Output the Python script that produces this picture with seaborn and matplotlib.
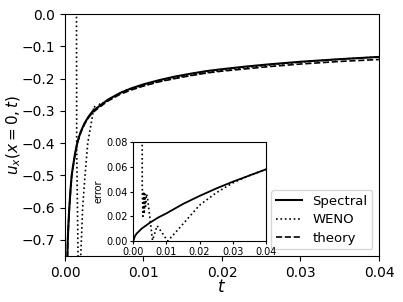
import numpy as np
import pandas as pd
import matplotlib
matplotlib.use("Agg")
import matplotlib.pyplot as plt
import seaborn as sns

# ---- main panel data ----
t_spec = [0.00028, 0.00035, 0.00045, 0.00055, 0.0007, 0.00085, 0.001, 0.0013, 0.0016,
          0.002, 0.0025, 0.003, 0.0035, 0.0045, 0.0055, 0.007, 0.0085, 0.01, 0.012,
          0.014, 0.016, 0.018, 0.02, 0.023, 0.026, 0.03, 0.035, 0.04]
u_spec = [-0.78, -0.70, -0.645, -0.60, -0.545, -0.50, -0.475, -0.43, -0.395,
          -0.365, -0.338, -0.318, -0.302, -0.283, -0.265, -0.245, -0.230, -0.218, -0.205,
          -0.194, -0.185, -0.177, -0.171, -0.163, -0.156, -0.148, -0.140, -0.133]
u_theory = [-0.782, -0.703, -0.648, -0.603, -0.549, -0.503, -0.478, -0.433, -0.398,
            -0.368, -0.341, -0.321, -0.306, -0.287, -0.269, -0.249, -0.235, -0.223, -0.210,
            -0.200, -0.191, -0.183, -0.177, -0.170, -0.163, -0.155, -0.147, -0.141]

t_weno = [0.00145, 0.00149, 0.00166, 0.0018, 0.00204, 0.00225, 0.00255, 0.0029, 0.0034,
          0.0037, 0.004, 0.0045, 0.005, 0.006, 0.0075, 0.01, 0.012, 0.015, 0.02,
          0.025, 0.03, 0.035, 0.04]
u_weno = [0.2, -0.42, -0.74, -0.85, -0.73, -0.60, -0.50, -0.40, -0.33,
          -0.285, -0.295, -0.276, -0.275, -0.262, -0.238, -0.222, -0.209, -0.194, -0.174,
          -0.161, -0.149, -0.140, -0.133]

# ---- inset (error) data ----
t_err_spec = [0.0, 0.0005, 0.001, 0.0025, 0.005, 0.0075, 0.01, 0.015, 0.02, 0.025, 0.03, 0.035, 0.04]
err_spec = [0.0, 0.004, 0.006, 0.010, 0.0148, 0.019, 0.0224, 0.030, 0.0365, 0.0425, 0.048, 0.053, 0.058]

t_err_weno = [0.0026, 0.0027, 0.0029, 0.0031, 0.0033, 0.0035, 0.0037, 0.0040, 0.0043,
              0.0058, 0.0072, 0.0104, 0.0141, 0.02, 0.025, 0.03, 0.035, 0.04]
err_weno = [0.3, 0.045, 0.02, 0.040, 0.022, 0.038, 0.028, 0.038, 0.035,
            0.0005, 0.0124, 0.0, 0.011, 0.029, 0.039, 0.047, 0.053, 0.058]

fig = plt.figure(figsize=(4.03, 3.02), dpi=100)
ax = fig.add_axes([0.1613, 0.1523, 0.779, 0.8013])

sns.lineplot(x=t_spec, y=u_spec, ax=ax, color="black", lw=1.5, label="Spectral", sort=False)
sns.lineplot(x=t_weno, y=u_weno, ax=ax, color="black", lw=1.2, ls=":", label="WENO", sort=False)
sns.lineplot(x=t_spec, y=u_theory, ax=ax, color="black", lw=1.2, ls="--", label="theory", sort=False)

ax.set_xlim(0, 0.04)
ax.set_ylim(-0.75, 0.0)
ax.set_xticks([0.0, 0.01, 0.02, 0.03, 0.04])
ax.set_xticklabels(["0.00", "0.01", "0.02", "0.03", "0.04"])
ax.set_yticks([0.0, -0.1, -0.2, -0.3, -0.4, -0.5, -0.6, -0.7])
ax.set_yticklabels(["0.0", "\u22120.1", "\u22120.2", "\u22120.3", "\u22120.4", "\u22120.5", "\u22120.6", "\u22120.7"])
ax.set_xlabel("$t$", fontsize=12, labelpad=-1)
ax.set_ylabel("$u_x(x=0,t)$", fontsize=11, labelpad=-1)
ax.legend(loc="lower right", fontsize=9.5, handlelength=2.0, framealpha=0.8,
          labelspacing=0.42, borderpad=0.35)

ins = fig.add_axes([0.3308, 0.202, 0.3285, 0.3268])
sns.lineplot(x=t_err_spec, y=err_spec, ax=ins, color="black", lw=1.3, sort=False)
sns.lineplot(x=t_err_weno, y=err_weno, ax=ins, color="black", lw=1.2, ls=":", sort=False)
ins.set_xlim(0, 0.04)
ins.set_ylim(0, 0.08)
ins.set_xticks([0.0, 0.01, 0.02, 0.03, 0.04])
ins.set_xticklabels(["0.00", "0.01", "0.02", "0.03", "0.04"])
ins.set_yticks([0.0, 0.02, 0.04, 0.06, 0.08])
ins.set_yticklabels(["0.00", "0.02", "0.04", "0.06", "0.08"])
ins.tick_params(labelsize=7, length=2.5, pad=1.5)
ins.set_ylabel("error", fontsize=7, labelpad=2)
ins.set_xlabel("")

fig.savefig("out.png", dpi=100)
